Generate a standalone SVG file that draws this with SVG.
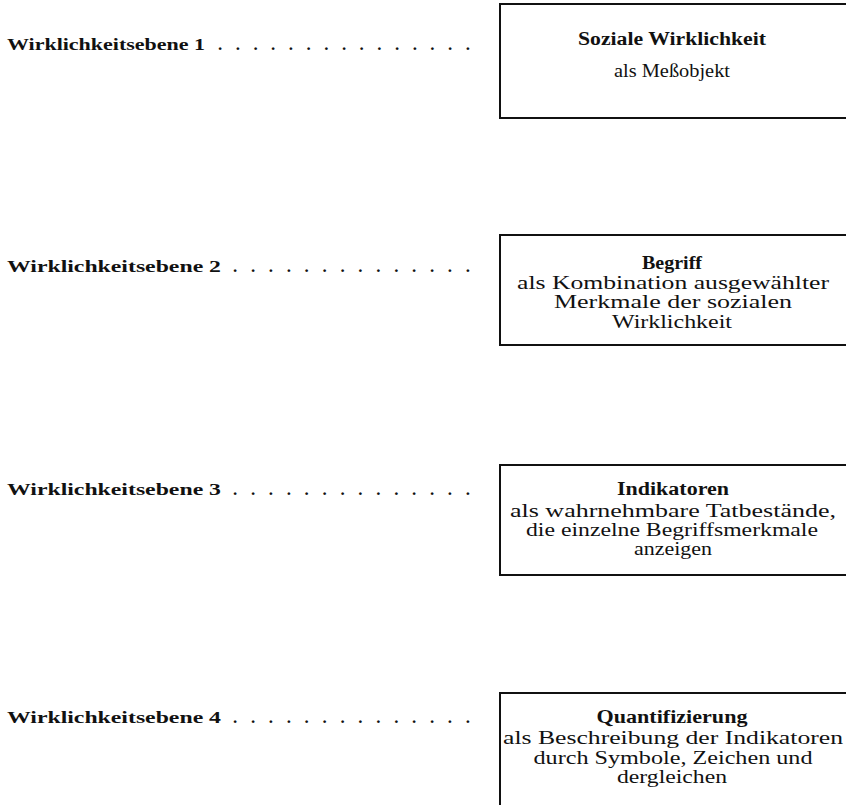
<svg xmlns="http://www.w3.org/2000/svg" width="846" height="805" viewBox="0 0 846 805">
<style>
text{font-family:"Liberation Serif","Times New Roman",serif;fill:#111;}
.lbl{font-size:17px;font-weight:bold;}
.t{font-size:18px;font-weight:bold;text-anchor:middle;}
.b{font-size:18px;text-anchor:middle;}
.box{fill:none;stroke:#111;stroke-width:2;}
</style>
<rect width="846" height="805" fill="#fff"/>
<g id="level1">
<text class="lbl" y="50"><tspan x="7" textLength="198" lengthAdjust="spacingAndGlyphs">Wirklichkeitsebene 1</tspan><tspan x="218" textLength="252" lengthAdjust="spacing">. . . . . . . . . . . . . . .</tspan></text>
</g>
<g id="level2">
<text class="lbl" y="272"><tspan x="7" textLength="214" lengthAdjust="spacingAndGlyphs">Wirklichkeitsebene 2</tspan><tspan x="233" textLength="237" lengthAdjust="spacing">. . . . . . . . . . . . . .</tspan></text>
</g>
<g id="level3">
<text class="lbl" y="495"><tspan x="7" textLength="214" lengthAdjust="spacingAndGlyphs">Wirklichkeitsebene 3</tspan><tspan x="233" textLength="237" lengthAdjust="spacing">. . . . . . . . . . . . . .</tspan></text>
</g>
<g id="level4">
<text class="lbl" y="723"><tspan x="7" textLength="214" lengthAdjust="spacingAndGlyphs">Wirklichkeitsebene 4</tspan><tspan x="233" textLength="237" lengthAdjust="spacing">. . . . . . . . . . . . . .</tspan></text>
</g>
<g id="box1">
<rect class="box" x="500" y="4" width="360" height="114"/>
<text class="t" x="672" y="45" textLength="188" lengthAdjust="spacingAndGlyphs">Soziale Wirklichkeit</text>
<text class="b" x="672" y="77" textLength="116" lengthAdjust="spacingAndGlyphs">als Meßobjekt</text>
</g>
<g id="box2">
<rect class="box" x="500" y="235" width="360" height="110"/>
<text class="t" x="672" y="269" textLength="60" lengthAdjust="spacingAndGlyphs">Begriff</text>
<text class="b" x="673" y="289" textLength="312" lengthAdjust="spacingAndGlyphs">als Kombination ausgewählter</text>
<text class="b" x="673" y="308" textLength="238" lengthAdjust="spacingAndGlyphs">Merkmale der sozialen</text>
<text class="b" x="672" y="328" textLength="120" lengthAdjust="spacingAndGlyphs">Wirklichkeit</text>
</g>
<g id="box3">
<rect class="box" x="500" y="465" width="360" height="110"/>
<text class="t" x="673" y="495" textLength="112" lengthAdjust="spacingAndGlyphs">Indikatoren</text>
<text class="b" x="673" y="517" textLength="326" lengthAdjust="spacingAndGlyphs">als wahrnehmbare Tatbestände,</text>
<text class="b" x="672" y="536" textLength="292" lengthAdjust="spacingAndGlyphs">die einzelne Begriffsmerkmale</text>
<text class="b" x="673" y="555" textLength="78" lengthAdjust="spacingAndGlyphs">anzeigen</text>
</g>
<g id="box4">
<rect class="box" x="500" y="693" width="360" height="130"/>
<text class="t" x="672" y="723" textLength="151" lengthAdjust="spacingAndGlyphs">Quantifizierung</text>
<text class="b" x="673" y="744" textLength="340" lengthAdjust="spacingAndGlyphs">als Beschreibung der Indikatoren</text>
<text class="b" x="673" y="764" textLength="279" lengthAdjust="spacingAndGlyphs">durch Symbole, Zeichen und</text>
<text class="b" x="672" y="783" textLength="110" lengthAdjust="spacingAndGlyphs">dergleichen</text>
</g>
<g id="connectors"></g>
</svg>
